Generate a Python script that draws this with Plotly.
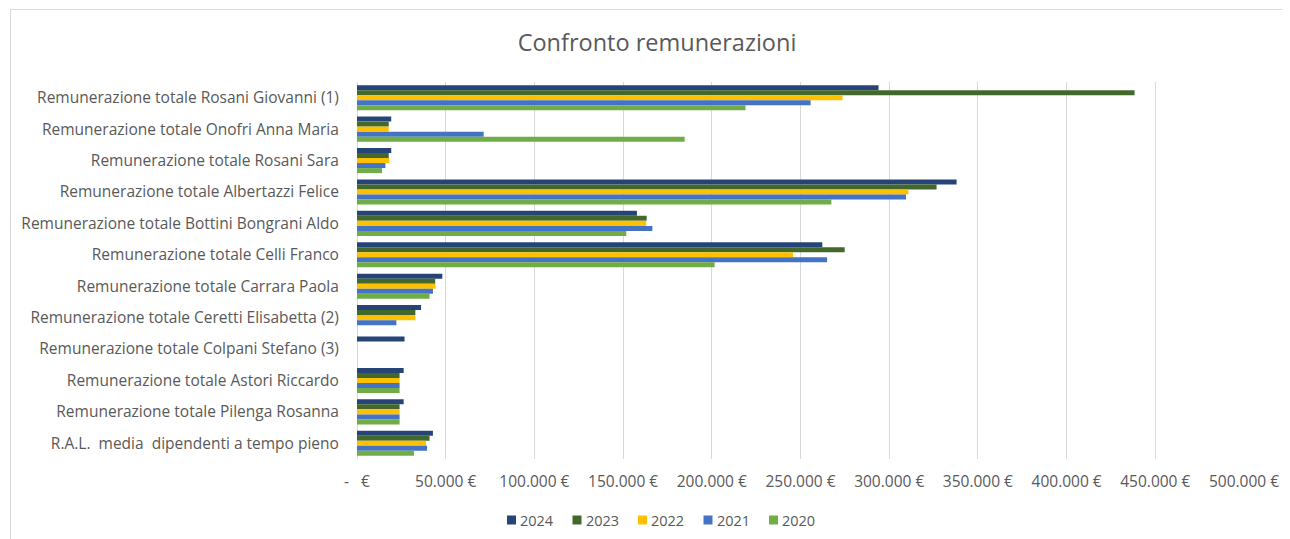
import plotly.graph_objects as go

categories = [
    "Remunerazione totale Rosani Giovanni (1)",
    "Remunerazione totale Onofri Anna Maria",
    "Remunerazione totale Rosani Sara",
    "Remunerazione totale Albertazzi Felice",
    "Remunerazione totale Bottini Bongrani Aldo",
    "Remunerazione totale Celli Franco",
    "Remunerazione totale Carrara Paola",
    "Remunerazione totale Ceretti Elisabetta (2)",
    "Remunerazione totale Colpani Stefano (3)",
    "Remunerazione totale Astori Riccardo",
    "Remunerazione totale Pilenga Rosanna",
    "R.A.L.  media  dipendenti a tempo pieno",
]

years = ["2024", "2023", "2022", "2021", "2020"]

v2024 = [294000, 19300, 19300, 338000, 157800, 262300, 48100, 36100, 26800, 26300, 26300, 42800]
v2023 = [438300, 17900, 17900, 326700, 163300, 274900, 44100, 32900, None, 24000, 24000, 40900]
v2022 = [273700, 17900, 18200, 310800, 163000, 245800, 44300, 32900, None, 24000, 24000, 38900]
v2021 = [255700, 71400, 16000, 309500, 166500, 265000, 42800, 22200, None, 24000, 24000, 39500]
v2020 = [219000, 184700, 14100, 267400, 151800, 201600, 40900, None, None, 24000, 24000, 32100]

series = [v2024, v2023, v2022, v2021, v2020]
colors = ["#264478", "#43682B", "#FFC000", "#4472C4", "#70AD47"]

tick_vals = [0, 50000, 100000, 150000, 200000, 250000, 300000, 350000, 400000, 450000, 500000]
tick_text = ["-\u00a0\u00a0\u00a0€", "50.000 €", "100.000 €", "150.000 €", "200.000 €",
             "250.000 €", "300.000 €", "350.000 €", "400.000 €", "450.000 €", "500.000 €"]

# page has an 8px body margin; work in screenshot pixels and subtract it
OFF = 8
W, H = 1290, 539
PL, PR, PT, PB = 357, 1244, 82, 459

fig = go.Figure()
for name, vals, col in zip(years, series, colors):
    fig.add_trace(go.Bar(
        y=categories, x=vals, name=name, orientation="h",
        marker=dict(color=col, line=dict(width=0)),
    ))

font_family = "Open Sans, DejaVu Sans, sans-serif"

def px_to_paper_x(px):
    return (px - PL) / (PR - PL)

def px_to_paper_y(py):
    return (PB - py) / (PB - PT)

FW, FH = W - OFF, H - OFF

fig.update_layout(
    width=FW, height=FH,
    margin=dict(l=PL - OFF, r=FW - (PR - OFF), t=PT - OFF, b=FH - (PB - OFF), autoexpand=False),
    paper_bgcolor="white", plot_bgcolor="white",
    barmode="group", bargap=0.2, bargroupgap=0,
    title=dict(text="Confronto remunerazioni", x=(657 - OFF) / FW, xref="container", xanchor="center",
               y=1 - (43 - OFF) / FH, yref="container", yanchor="middle",
               font=dict(family=font_family, size=23.5, color="#595959")),
    font=dict(family=font_family, size=15.5, color="#595959"),
    xaxis=dict(range=[0, 500000], tickvals=tick_vals, ticktext=tick_text,
               showgrid=True, gridcolor="#D9D9D9", gridwidth=1,
               zeroline=True, zerolinecolor="#D9D9D9", zerolinewidth=1,
               showline=False, ticks="outside", ticklen=8, tickcolor="rgba(0,0,0,0)",
               tickfont=dict(size=15.5, color="#595959")),
    yaxis=dict(autorange="reversed", showgrid=False, showline=False,
               ticks="outside", ticklen=14, tickcolor="rgba(0,0,0,0)",
               tickfont=dict(size=15.5, color="#595959")),
    showlegend=False,
)

# legend drawn as swatches + labels (Excel-style compact legend)
LEG_X0, LEG_STEP, LEG_Y, SQ = 507, 65.5, 520, 9
for i, (name, col) in enumerate(zip(years, colors)):
    sx = LEG_X0 + i * LEG_STEP
    fig.add_shape(type="rect", xref="paper", yref="paper",
                  x0=px_to_paper_x(sx), x1=px_to_paper_x(sx + SQ),
                  y0=px_to_paper_y(LEG_Y - SQ / 2), y1=px_to_paper_y(LEG_Y + SQ / 2),
                  fillcolor=col, line=dict(width=0))
    fig.add_annotation(xref="paper", yref="paper", x=px_to_paper_x(sx + SQ + 2),
                       y=px_to_paper_y(LEG_Y), xanchor="left", yanchor="middle",
                       text=name, showarrow=False,
                       font=dict(family=font_family, size=14.5, color="#595959"))

# chart-area border (top and left visible)
fig.add_shape(type="line", xref="paper", yref="paper",
              x0=px_to_paper_x(10), x1=px_to_paper_x(1300), y0=px_to_paper_y(9.5), y1=px_to_paper_y(9.5),
              line=dict(color="#D9D9D9", width=1))
fig.add_shape(type="line", xref="paper", yref="paper",
              x0=px_to_paper_x(10.5), x1=px_to_paper_x(10.5), y0=px_to_paper_y(9), y1=px_to_paper_y(545),
              line=dict(color="#D9D9D9", width=1))

fig.write_html("out.html")
